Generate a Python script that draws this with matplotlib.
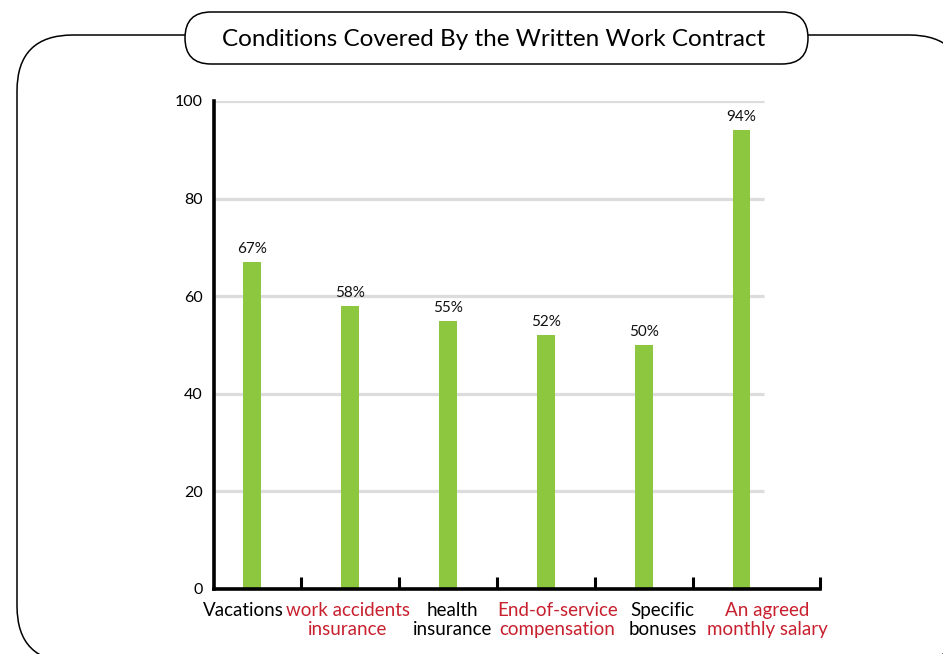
import numpy as np
import matplotlib
matplotlib.use('Agg')
import matplotlib.pyplot as plt
import matplotlib.transforms as mtransforms
from matplotlib.patches import FancyBboxPatch

plt.rcParams['font.family'] = ['Lato', 'DejaVu Sans']

# data
categories = ['Vacations', 'work accidents\ninsurance', 'health\ninsurance',
              'End-of-service\ncompensation', 'Specific\nbonuses', 'An agreed\nmonthly salary']
values = [67, 58, 55, 52, 50, 94]
label_colors = ['black', '#c8202e', 'black', '#c8202e', 'black', '#c8202e']
y_ticks = [0, 20, 40, 60, 80, 100]
title = 'Conditions Covered By the Written Work Contract'

W, H = 943, 654
fig = plt.figure(figsize=(W / 100, H / 100), dpi=100)

# background layer in pixel units for the rounded frame and the title pill
bg = fig.add_axes([0, 0, 1, 1], zorder=0)
bg.set_xlim(0, W)
bg.set_ylim(H, 0)
bg.axis('off')
frame = FancyBboxPatch((17, 35), 948, 627, boxstyle='round,pad=0,rounding_size=56',
                       fc='white', ec='black', lw=1.1)
bg.add_patch(frame)
pill = FancyBboxPatch((185, 12), 623, 52, boxstyle='round,pad=0,rounding_size=26',
                      fc='white', ec='black', lw=1.1)
bg.add_patch(pill)
bg.text(494, 39, title, ha='center', va='center', fontsize=17.5, color='black')

# main chart
ax = fig.add_axes([214 / W, 1 - 589 / H, 606 / W, 488 / H], zorder=1)
ax.set_facecolor('none')
x = np.arange(len(categories))
ax.set_xlim(-0.39, 5.8)
ax.set_ylim(0, 100)

for t in y_ticks[1:]:
    ax.hlines(t, -0.39, 5.23, color='#dcdcdc', lw=2.3, zorder=1)

ax.bar(x, values, width=0.18, color='#8dc63f', zorder=2)
for xi, v in zip(x, values):
    ax.text(xi, v + 1.2, f'{v}%', ha='center', va='bottom', fontsize=11, color='#111111')

for s in ['top', 'right']:
    ax.spines[s].set_visible(False)
ax.spines['left'].set_linewidth(2.6)
ax.spines['bottom'].set_linewidth(2.6)

ax.set_yticks(y_ticks)
ax.set_yticklabels([str(t) for t in y_ticks], fontsize=11.5)
ax.tick_params(axis='y', length=0, pad=8)

# category labels sit a little more spread out than the bars
ax.set_xticks([])
ax.set_xticks(list(x[:-1] + 0.5) + [5.8], minor=True)
ax.tick_params(axis='x', which='minor', direction='in', length=9, width=2.2,
               color='black', labelbottom=False)
trans = mtransforms.blended_transform_factory(ax.transData, ax.transAxes)
trans = trans + mtransforms.ScaledTranslation(0, -9.5 / 72, fig.dpi_scale_trans)
for i, (name, c) in enumerate(zip(categories, label_colors)):
    ax.text(i * 1.07 - 0.09, 0, name, transform=trans, ha='center', va='top',
            fontsize=13.5, color=c, linespacing=1.15, multialignment='center')

fig.savefig('out.png', dpi=100)
